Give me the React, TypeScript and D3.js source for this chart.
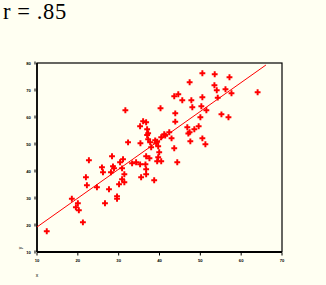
import React, { useEffect, useRef } from "react";
import * as d3 from "d3";

const W = 326;
const H = 285;

const xTicks = [10, 20, 30, 40, 50, 60, 70];
const yTicks = [10, 20, 30, 40, 50, 60, 70, 80];
const titleText = "r = .85";
const xTitle = "x";
const yTitle = "y";

const xValues = [
  31.64, 40.25, 43.61, 44.6, 43.86, 43.86, 35.99, 36.73, 35.25, 36.97, 37.22, 36.97,
  42.39, 41.16, 41.4, 40.42, 42.95, 32.3, 35.33, 37.22, 37.71, 38.94, 39.43, 39.19,
  37.96, 39.68, 43.61, 39.93, 50.5, 53.52, 57.14, 47.38, 53.45, 54.02, 56.16, 57.63,
  64.03, 45.58, 47.8, 50.5, 54.26, 48.04, 50.25, 51.48, 55.17, 56.89, 50.01, 46.81,
  49.59, 48.53, 47.38, 47.06, 50.5, 47.55, 51.24, 28.37, 22.71, 36.73, 37.54, 39.68,
  31.07, 30.34, 33.29, 34.27, 35.25, 36.56, 39.43, 40.42, 44.35, 25.91, 28.61, 28.86,
  30.83, 26.16, 28.12, 31.39, 36.73, 36.73, 35.5, 21.98, 30.83, 31.39, 30.09, 38.7,
  22.22, 24.68, 27.63, 29.6, 29.6, 18.53, 20.01, 26.65, 19.52, 20.25, 21.24, 12.39,
];
const yValues = [
  62.49, 63.23, 67.67, 68.41, 61.37, 58.26, 58.41, 58.04, 56.56, 55.45, 53.97, 53.34,
  54.34, 53.6, 53.08, 52.49, 52.11, 50.63, 50.26, 51.74, 50.63, 51.37, 50.86, 50.26,
  48.78, 49.15, 48.41, 46.93, 76.19, 75.82, 74.71, 72.86, 71.75, 69.89, 70.26, 68.78,
  69.15, 66.19, 66.19, 67.3, 67.15, 63.6, 63.97, 62.49, 61.0, 59.89, 59.89, 56.19,
  56.56, 55.45, 54.34, 53.89, 52.11, 51.0, 49.89, 45.45, 43.97, 45.45, 44.71, 45.08,
  44.34, 43.23, 42.85, 43.23, 42.48, 42.48, 43.6, 43.6, 43.23, 41.37, 41.74, 41.0,
  41.0, 39.52, 39.52, 38.78, 40.63, 38.78, 37.67, 37.67, 36.93, 35.82, 35.08, 36.56,
  34.71, 33.97, 33.23, 30.63, 29.74, 29.74, 28.04, 28.04, 26.56, 25.45, 21.0, 17.67,
];
const fitX = [10, 66.07];
const fitY = [19.26, 79.26];

export default function App() {
  const ref = useRef<SVGSVGElement>(null);

  useEffect(() => {
    const svg = d3.select(ref.current);
    svg.selectAll("*").remove();

    const left = 37, right = 282, top = 63, bottom = 252;
    const x = d3.scaleLinear().domain([10, 70]).range([left, right]);
    const y = d3.scaleLinear().domain([10, 80]).range([bottom, top]);

    svg.append("rect").attr("width", W).attr("height", H).attr("fill", "#FFFFF2");

    svg.append("text")
      .attr("x", 3).attr("y", 18.5)
      .attr("font-family", "'Liberation Serif', serif")
      .attr("font-size", 22.5)
      .attr("letter-spacing", 0.6)
      .attr("fill", "#000")
      .text(titleText);

    // frame
    svg.append("rect")
      .attr("x", left).attr("y", top)
      .attr("width", right - left).attr("height", bottom - top)
      .attr("fill", "none").attr("stroke", "#000").attr("stroke-width", 1.2);
    svg.append("line").attr("x1", left).attr("x2", right).attr("y1", bottom).attr("y2", bottom)
      .attr("stroke", "#000").attr("stroke-width", 2);
    svg.append("line").attr("x1", left).attr("x2", left).attr("y1", top).attr("y2", bottom)
      .attr("stroke", "#000").attr("stroke-width", 1.6);

    // y ticks
    const yg = svg.append("g");
    yTicks.forEach((t) => {
      yg.append("rect").attr("x", 34.5).attr("y", y(t) - 1.5).attr("width", 1).attr("height", 3).attr("fill", "#000");
      yg.append("text").attr("x", 28.5).attr("y", y(t) + 1.5)
        .attr("text-anchor", "middle").attr("font-family", "Arial, sans-serif")
        .attr("font-size", 4.2).attr("font-weight", "bold").attr("fill", "#000").text(String(t));
    });
    // x ticks
    const xg = svg.append("g");
    xTicks.forEach((t) => {
      xg.append("rect").attr("x", x(t) - 0.5).attr("y", 253).attr("width", 1).attr("height", 2.5).attr("fill", "#000");
      xg.append("text").attr("x", x(t)).attr("y", 261.5)
        .attr("text-anchor", "middle").attr("font-family", "Arial, sans-serif")
        .attr("font-size", 4.2).attr("font-weight", "bold").attr("fill", "#000").text(String(t));
    });

    svg.append("text").attr("x", 37).attr("y", 276.5).attr("text-anchor", "middle")
      .attr("font-family", "Arial, sans-serif").attr("font-size", 5).attr("fill", "#000").text(xTitle);
    svg.append("text").attr("transform", "translate(22,248) rotate(-90)").attr("text-anchor", "middle")
      .attr("font-family", "Arial, sans-serif").attr("font-size", 5).attr("fill", "#000").text(yTitle);

    // fit line
    svg.append("line")
      .attr("x1", x(fitX[0])).attr("y1", y(fitY[0]))
      .attr("x2", x(fitX[1])).attr("y2", y(fitY[1]))
      .attr("stroke", "#FF0000").attr("stroke-width", 1);

    const sym = d3.symbol().type(d3.symbolCross).size(19);
    svg.append("g").selectAll("path")
      .data(xValues.map((v, i) => [v, yValues[i]]))
      .join("path")
      .attr("transform", (d) => `translate(${x(d[0])},${y(d[1])})`)
      .attr("d", sym() as string)
      .attr("fill", "#FF0000");
  }, []);

  return (
    <svg
      ref={ref}
      width={W}
      height={H}
      style={{ position: "absolute", left: 0, top: 0, display: "block" }}
    />
  );
}
